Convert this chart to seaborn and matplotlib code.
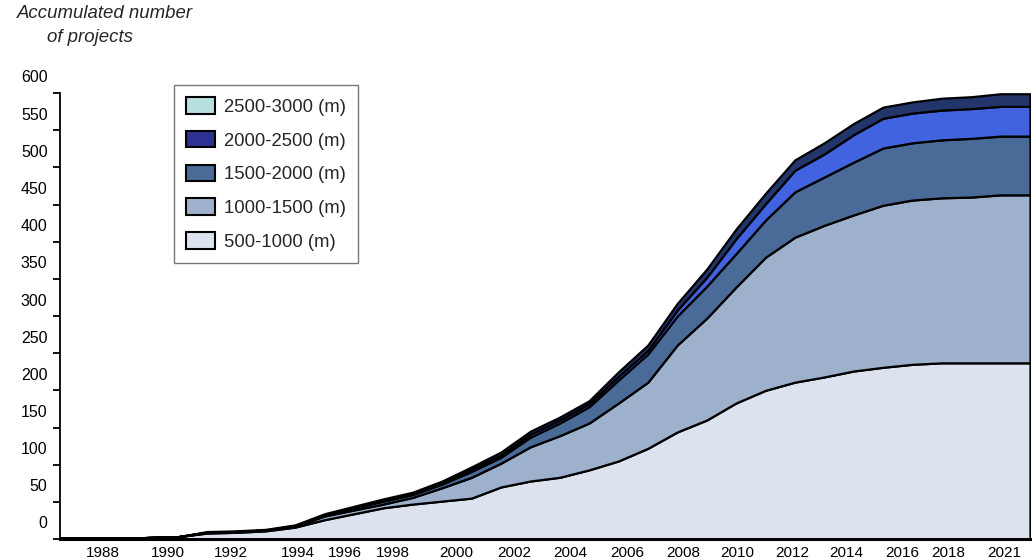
import matplotlib
matplotlib.use("Agg")
import matplotlib.pyplot as plt
from matplotlib.patches import Patch
from matplotlib.transforms import ScaledTranslation
import seaborn as sns

# Accumulated number of projects per depth class, one value per year
years = list(range(1988, 2022))
d500_1000 = [1, 1, 1, 2, 3, 8, 9, 11, 16, 26, 34, 42, 47, 51, 55, 70, 78, 83, 93, 105,
             122, 144, 160, 183, 200, 211, 218, 226, 231, 235, 237, 237, 237, 237]
d1000_1500 = [0, 0, 0, 0, 0, 1, 1, 1, 1, 5, 5, 5, 9, 18, 28, 32, 46, 56, 63, 78,
              89, 117, 137, 156, 179, 195, 204, 210, 218, 221, 222, 223, 226, 226]
d1500_2000 = [0, 0, 0, 0, 0, 0, 0, 0, 1, 1, 3, 4, 4, 5, 8, 8, 13, 17, 22, 31,
              38, 39, 43, 45, 50, 61, 65, 71, 77, 77, 78, 79, 79, 79]
d2000_2500 = [0, 0, 0, 0, 0, 0, 0, 0, 0, 0, 0, 1, 1, 2, 3, 3, 4, 4, 4, 5,
              5, 8, 12, 20, 22, 29, 31, 37, 40, 40, 40, 40, 40, 40]
d2500_3000 = [0, 0, 0, 0, 0, 1, 1, 1, 1, 2, 2, 2, 2, 2, 3, 4, 4, 4, 4, 6,
              7, 9, 11, 13, 14, 14, 15, 15, 15, 15, 16, 16, 17, 17]

series_labels = ["500-1000 (m)", "1000-1500 (m)", "1500-2000 (m)",
                 "2000-2500 (m)", "2500-3000 (m)"]
x_tick_labels = ["1988", "1990", "1992", "1994", "1996", "1998", "2000", "2002",
                 "2004", "2006", "2008", "2010", "2012", "2014", "2016", "2018", "2021"]
y_ticks = list(range(0, 601, 50))

# layout: where the year captions sit along the time axis
x_label_pos = [1989.46, 1991.67, 1993.82, 1996.10, 1997.70, 1999.33, 2001.47,
               2003.45, 2005.35, 2007.29, 2009.19, 2011.03, 2012.90, 2014.74,
               2016.65, 2018.21, 2020.12]

fill_colors = ["#dde3ee", "#9db0cc", "#4a6a98", "#4263e0", "#22366b"]
legend_colors = ["#dde3ee", "#9fb1cd", "#4a6a98", "#2e3192", "#b8dfe0"]

sns.set_style("ticks")
plt.rcParams["font.family"] = ["Liberation Sans", "DejaVu Sans"]

fig = plt.figure(figsize=(10.35, 5.6), dpi=100)
ax = fig.add_axes([60 / 1035, 1 - 539 / 560, 970 / 1035, 446 / 560])

ax.stackplot(years, d500_1000, d1000_1500, d1500_2000, d2000_2500, d2500_3000,
             colors=fill_colors, edgecolor="black", linewidth=1.6)

ax.set_xlim(years[0], years[-1])
ax.set_ylim(0, 600)
ax.set_yticks(y_ticks)
ax.set_yticklabels([str(v) for v in y_ticks])
ax.set_xticks(x_label_pos)
ax.set_xticklabels(x_tick_labels)

ax.tick_params(axis="y", direction="out", length=5, width=1.3, color="black",
               labelsize=11.5, pad=4, labelcolor="black")
ax.tick_params(axis="x", length=0, labelsize=11, pad=5, labelcolor="black")

# value captions sit halfway between the tick marks
shift = ScaledTranslation(0, 0.165, fig.dpi_scale_trans)
for lab in ax.get_yticklabels():
    lab.set_transform(lab.get_transform() + shift)

sns.despine(ax=ax, top=True, right=True)
ax.spines["left"].set_linewidth(1.3)
ax.spines["bottom"].set_linewidth(2.2)
ax.spines["left"].set_color("black")
ax.spines["bottom"].set_color("black")
ax.grid(False)

fig.text(17 / 1035, 1 - 14 / 560, "Accumulated number",
         ha="left", va="center", fontsize=13.4, style="italic")
fig.text(47 / 1035, 1 - 38 / 560, "of projects",
         ha="left", va="center", fontsize=13.4, style="italic")

handles = [Patch(facecolor=c, edgecolor="black", linewidth=1.5) for c in legend_colors]
leg = fig.legend(handles[::-1], series_labels[::-1],
                 loc="upper left", bbox_to_anchor=(174 / 1035, 1 - 85 / 560),
                 frameon=True, fancybox=False, fontsize=13.3,
                 handlelength=1.55, handleheight=1.0, handletextpad=0.5,
                 labelspacing=0.82, borderpad=0.66, borderaxespad=0)
leg.get_frame().set_edgecolor("#555555")
leg.get_frame().set_linewidth(1.0)

fig.savefig("out.png", dpi=100)
